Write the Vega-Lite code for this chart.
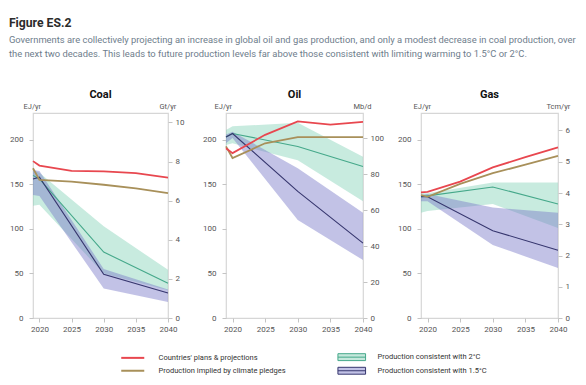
{
  "$schema": "https://vega.github.io/schema/vega-lite/v6.json",
  "padding": {"left": 8, "top": 17, "right": 4, "bottom": 0},
  "datasets": {
    "lines": [
      {"fuel": "Coal", "series": "Production consistent with 2°C", "year": 2019, "value": 160},
      {"fuel": "Coal", "series": "Production consistent with 2°C", "year": 2020, "value": 156},
      {"fuel": "Coal", "series": "Production consistent with 2°C", "year": 2030, "value": 74},
      {"fuel": "Coal", "series": "Production consistent with 2°C", "year": 2040, "value": 39},
      {"fuel": "Coal", "series": "Production consistent with 1.5°C", "year": 2019, "value": 156},
      {"fuel": "Coal", "series": "Production consistent with 1.5°C", "year": 2020, "value": 158},
      {"fuel": "Coal", "series": "Production consistent with 1.5°C", "year": 2030, "value": 49},
      {"fuel": "Coal", "series": "Production consistent with 1.5°C", "year": 2040, "value": 28},
      {"fuel": "Coal", "series": "Production implied by climate pledges", "year": 2019, "value": 168},
      {"fuel": "Coal", "series": "Production implied by climate pledges", "year": 2020, "value": 155},
      {"fuel": "Coal", "series": "Production implied by climate pledges", "year": 2025, "value": 153},
      {"fuel": "Coal", "series": "Production implied by climate pledges", "year": 2030, "value": 149.5},
      {"fuel": "Coal", "series": "Production implied by climate pledges", "year": 2035, "value": 145.5},
      {"fuel": "Coal", "series": "Production implied by climate pledges", "year": 2040, "value": 140},
      {"fuel": "Coal", "series": "Countries' plans & projections", "year": 2019, "value": 176},
      {"fuel": "Coal", "series": "Countries' plans & projections", "year": 2020, "value": 171},
      {"fuel": "Coal", "series": "Countries' plans & projections", "year": 2025, "value": 165},
      {"fuel": "Coal", "series": "Countries' plans & projections", "year": 2030, "value": 164.5},
      {"fuel": "Coal", "series": "Countries' plans & projections", "year": 2035, "value": 162.5},
      {"fuel": "Coal", "series": "Countries' plans & projections", "year": 2040, "value": 157.5},

      {"fuel": "Oil", "series": "Production consistent with 2°C", "year": 2019, "value": 203},
      {"fuel": "Oil", "series": "Production consistent with 2°C", "year": 2020, "value": 207},
      {"fuel": "Oil", "series": "Production consistent with 2°C", "year": 2030, "value": 192.5},
      {"fuel": "Oil", "series": "Production consistent with 2°C", "year": 2040, "value": 170},
      {"fuel": "Oil", "series": "Production consistent with 1.5°C", "year": 2019, "value": 203},
      {"fuel": "Oil", "series": "Production consistent with 1.5°C", "year": 2020, "value": 207},
      {"fuel": "Oil", "series": "Production consistent with 1.5°C", "year": 2030, "value": 142},
      {"fuel": "Oil", "series": "Production consistent with 1.5°C", "year": 2040, "value": 84},
      {"fuel": "Oil", "series": "Production implied by climate pledges", "year": 2019, "value": 192.5},
      {"fuel": "Oil", "series": "Production implied by climate pledges", "year": 2020, "value": 179.5},
      {"fuel": "Oil", "series": "Production implied by climate pledges", "year": 2025, "value": 196},
      {"fuel": "Oil", "series": "Production implied by climate pledges", "year": 2030, "value": 203},
      {"fuel": "Oil", "series": "Production implied by climate pledges", "year": 2035, "value": 203},
      {"fuel": "Oil", "series": "Production implied by climate pledges", "year": 2040, "value": 203},
      {"fuel": "Oil", "series": "Countries' plans & projections", "year": 2019, "value": 190.5},
      {"fuel": "Oil", "series": "Countries' plans & projections", "year": 2020, "value": 185},
      {"fuel": "Oil", "series": "Countries' plans & projections", "year": 2025, "value": 205.5},
      {"fuel": "Oil", "series": "Countries' plans & projections", "year": 2030, "value": 220.5},
      {"fuel": "Oil", "series": "Countries' plans & projections", "year": 2035, "value": 217},
      {"fuel": "Oil", "series": "Countries' plans & projections", "year": 2040, "value": 220},

      {"fuel": "Gas", "series": "Production consistent with 2°C", "year": 2019, "value": 136},
      {"fuel": "Gas", "series": "Production consistent with 2°C", "year": 2020, "value": 137},
      {"fuel": "Gas", "series": "Production consistent with 2°C", "year": 2030, "value": 147},
      {"fuel": "Gas", "series": "Production consistent with 2°C", "year": 2040, "value": 128},
      {"fuel": "Gas", "series": "Production consistent with 1.5°C", "year": 2019, "value": 136},
      {"fuel": "Gas", "series": "Production consistent with 1.5°C", "year": 2020, "value": 136},
      {"fuel": "Gas", "series": "Production consistent with 1.5°C", "year": 2030, "value": 98},
      {"fuel": "Gas", "series": "Production consistent with 1.5°C", "year": 2040, "value": 76},
      {"fuel": "Gas", "series": "Production implied by climate pledges", "year": 2019, "value": 138},
      {"fuel": "Gas", "series": "Production implied by climate pledges", "year": 2020, "value": 136},
      {"fuel": "Gas", "series": "Production implied by climate pledges", "year": 2025, "value": 150.5},
      {"fuel": "Gas", "series": "Production implied by climate pledges", "year": 2030, "value": 162.5},
      {"fuel": "Gas", "series": "Production implied by climate pledges", "year": 2035, "value": 172},
      {"fuel": "Gas", "series": "Production implied by climate pledges", "year": 2040, "value": 182},
      {"fuel": "Gas", "series": "Countries' plans & projections", "year": 2019, "value": 141},
      {"fuel": "Gas", "series": "Countries' plans & projections", "year": 2020, "value": 141.5},
      {"fuel": "Gas", "series": "Countries' plans & projections", "year": 2025, "value": 153},
      {"fuel": "Gas", "series": "Countries' plans & projections", "year": 2030, "value": 169},
      {"fuel": "Gas", "series": "Countries' plans & projections", "year": 2035, "value": 180.5},
      {"fuel": "Gas", "series": "Countries' plans & projections", "year": 2040, "value": 191.5}
    ],
    "bands": [
      {"fuel": "Coal", "series": "Production consistent with 2°C", "year": 2019, "lo": 126, "hi": 166},
      {"fuel": "Coal", "series": "Production consistent with 2°C", "year": 2020, "lo": 127, "hi": 163},
      {"fuel": "Coal", "series": "Production consistent with 2°C", "year": 2030, "lo": 50, "hi": 103},
      {"fuel": "Coal", "series": "Production consistent with 2°C", "year": 2040, "lo": 31, "hi": 54},
      {"fuel": "Coal", "series": "Production consistent with 1.5°C", "year": 2019, "lo": 138, "hi": 166},
      {"fuel": "Coal", "series": "Production consistent with 1.5°C", "year": 2020, "lo": 137, "hi": 165},
      {"fuel": "Coal", "series": "Production consistent with 1.5°C", "year": 2030, "lo": 33, "hi": 55},
      {"fuel": "Coal", "series": "Production consistent with 1.5°C", "year": 2040, "lo": 18, "hi": 32},
      {"fuel": "Oil", "series": "Production consistent with 2°C", "year": 2019, "lo": 194, "hi": 211},
      {"fuel": "Oil", "series": "Production consistent with 2°C", "year": 2020, "lo": 196, "hi": 215},
      {"fuel": "Oil", "series": "Production consistent with 2°C", "year": 2030, "lo": 177, "hi": 219},
      {"fuel": "Oil", "series": "Production consistent with 2°C", "year": 2040, "lo": 131, "hi": 181},
      {"fuel": "Oil", "series": "Production consistent with 1.5°C", "year": 2019, "lo": 196, "hi": 206},
      {"fuel": "Oil", "series": "Production consistent with 1.5°C", "year": 2020, "lo": 202, "hi": 209},
      {"fuel": "Oil", "series": "Production consistent with 1.5°C", "year": 2030, "lo": 110, "hi": 168},
      {"fuel": "Oil", "series": "Production consistent with 1.5°C", "year": 2040, "lo": 65, "hi": 118},
      {"fuel": "Gas", "series": "Production consistent with 2°C", "year": 2019, "lo": 118, "hi": 140},
      {"fuel": "Gas", "series": "Production consistent with 2°C", "year": 2020, "lo": 120, "hi": 140},
      {"fuel": "Gas", "series": "Production consistent with 2°C", "year": 2030, "lo": 128, "hi": 152},
      {"fuel": "Gas", "series": "Production consistent with 2°C", "year": 2040, "lo": 101, "hi": 152},
      {"fuel": "Gas", "series": "Production consistent with 1.5°C", "year": 2019, "lo": 131, "hi": 138},
      {"fuel": "Gas", "series": "Production consistent with 1.5°C", "year": 2020, "lo": 131, "hi": 139},
      {"fuel": "Gas", "series": "Production consistent with 1.5°C", "year": 2030, "lo": 82, "hi": 124},
      {"fuel": "Gas", "series": "Production consistent with 1.5°C", "year": 2040, "lo": 56, "hi": 118}
    ]
  },
  "title": {
    "text": "Figure ES.2",
    "subtitle": [
      "Governments are collectively projecting an increase in global oil and gas production, and only a modest decrease in coal production, over",
      "the next two decades. This leads to future production levels far above those consistent with limiting warming to 1.5°C or 2°C."
    ],
    "anchor": "start",
    "frame": "bounds",
    "fontSize": 12.2,
    "fontWeight": "bold",
    "color": "#2b2b2b",
    "subtitleColor": "#6e7d8c",
    "subtitleFontSize": 9.4,
    "subtitleLineHeight": 14.5,
    "subtitlePadding": 6,
    "offset": 30
  },
  "bounds": "flush",
  "spacing": 58,
  "hconcat": [
    {
      "title": {"text": "Coal"},
      "width": 135,
      "height": 205,
      "layer": [
        {
          "data": {"name": "bands"},
          "transform": [{"filter": "datum.fuel == 'Coal'"}],
          "mark": {"type": "area", "fillOpacity": 0.45},
          "encoding": {
            "x": {"field": "year", "type": "quantitative", "scale": {"domain": [2019, 2040], "nice": false, "zero": false}, "axis": {"values": [2020, 2025, 2030, 2035, 2040], "format": "d", "title": null, "labelOverlap": false}},
            "y": {"field": "lo", "type": "quantitative", "scale": {"domain": [0, 230], "nice": false}, "axis": {"values": [0, 50, 100, 150, 200], "labelPadding": 6, "title": "EJ/yr", "titleAngle": 0, "titleAlign": "left", "titleBaseline": "alphabetic", "titleX": -10, "titleY": -5}},
            "y2": {"field": "hi"},
            "fill": {"field": "series", "type": "nominal", "scale": {"domain": ["Production consistent with 2°C", "Production consistent with 1.5°C"], "range": ["#85d3b8", "#7878c8"]}, "legend": null}
          }
        },
        {
          "data": {"name": "lines"},
          "transform": [{"filter": "datum.fuel == 'Coal' && indexof(datum.series, 'consistent') >= 0"}],
          "mark": {"type": "line", "strokeWidth": 1.1},
          "encoding": {
            "x": {"field": "year", "type": "quantitative", "scale": {"domain": [2019, 2040], "nice": false, "zero": false}, "axis": {"values": [2020, 2025, 2030, 2035, 2040], "format": "d", "title": null, "labelOverlap": false}},
            "y": {"field": "value", "type": "quantitative", "scale": {"domain": [0, 230], "nice": false}, "axis": null},
            "stroke": {"field": "series", "type": "nominal"}
          }
        },
        {
          "data": {"name": "lines"},
          "transform": [{"filter": "datum.fuel == 'Coal' && indexof(datum.series, 'consistent') < 0"}],
          "mark": {"type": "line", "strokeWidth": 1.8},
          "encoding": {
            "x": {"field": "year", "type": "quantitative", "scale": {"domain": [2019, 2040], "nice": false, "zero": false}, "axis": {"values": [2020, 2025, 2030, 2035, 2040], "format": "d", "title": null, "labelOverlap": false}},
            "y": {"field": "value", "type": "quantitative", "scale": {"domain": [0, 230], "nice": false}, "axis": null},
            "stroke": {
              "field": "series",
              "type": "nominal",
              "scale": {"domain": ["Countries' plans & projections", "Production implied by climate pledges", "Production consistent with 2°C", "Production consistent with 1.5°C"], "range": ["#e8474f", "#a8905a", "#45a88a", "#36366e"]},
              "legend": {
                "orient": "none",
                "legendX": 96,
                "legendY": 240,
                "columns": 2,
                "title": null,
                "columnPadding": 49,
                "rowPadding": 2,
                "labelFontSize": 7.5,
                "labelColor": "#333333",
                "labelOffset": 22,
                "symbolType": "stroke",
                "symbolSize": 530,
                "symbolStrokeWidth": 2,
                "symbolOpacity": 1,
                "encode": {
                  "symbols": {
                    "update": {
                      "shape": {"signal": "datum.index >= 2 ? 'M-1.2,-0.3H1.2V0.3H-1.2Z M-1.2,0H1.2' : 'stroke'"},
                      "fill": {"signal": "datum.index == 2 ? '#c5e8dc' : datum.index == 3 ? '#c2c2e6' : 'transparent'"},
                      "strokeWidth": {"signal": "datum.index >= 2 ? 1 : 2"}
                    }
                  }
                }
              }
            }
          }
        },
        {
          "data": {"name": "lines"},
          "transform": [{"filter": "datum.fuel == 'Coal'"}],
          "mark": {"type": "rule", "opacity": 0, "clip": true},
          "encoding": {
            "y": {"field": "value", "type": "quantitative", "scale": {"domain": [0, 10.48], "nice": false}, "axis": {"orient": "right", "values": [0, 2, 4, 6, 8, 10], "title": "Gt/yr", "titleAngle": 0, "titleAlign": "left", "titleBaseline": "alphabetic", "titleX": -9, "titleY": -5}}
          }
        }
      ],
      "resolve": {"scale": {"y": "independent"}}
    },
    {
      "title": {"text": "Oil"},
      "width": 137,
      "height": 205,
      "layer": [
        {
          "data": {"name": "bands"},
          "transform": [{"filter": "datum.fuel == 'Oil'"}],
          "mark": {"type": "area", "fillOpacity": 0.45},
          "encoding": {
            "x": {"field": "year", "type": "quantitative", "scale": {"domain": [2019, 2040], "nice": false, "zero": false}, "axis": {"values": [2020, 2025, 2030, 2035, 2040], "format": "d", "title": null, "labelOverlap": false}},
            "y": {"field": "lo", "type": "quantitative", "scale": {"domain": [0, 230], "nice": false}, "axis": {"values": [0, 50, 100, 150, 200], "labelPadding": 6, "title": "EJ/yr", "titleAngle": 0, "titleAlign": "left", "titleBaseline": "alphabetic", "titleX": -12, "titleY": -5}},
            "y2": {"field": "hi"},
            "fill": {"field": "series", "type": "nominal", "scale": {"domain": ["Production consistent with 2°C", "Production consistent with 1.5°C"], "range": ["#85d3b8", "#7878c8"]}, "legend": null}
          }
        },
        {
          "data": {"name": "lines"},
          "transform": [{"filter": "datum.fuel == 'Oil' && indexof(datum.series, 'consistent') >= 0"}],
          "mark": {"type": "line", "strokeWidth": 1.1},
          "encoding": {
            "x": {"field": "year", "type": "quantitative", "scale": {"domain": [2019, 2040], "nice": false, "zero": false}, "axis": {"values": [2020, 2025, 2030, 2035, 2040], "format": "d", "title": null, "labelOverlap": false}},
            "y": {"field": "value", "type": "quantitative", "scale": {"domain": [0, 230], "nice": false}, "axis": null},
            "stroke": {"field": "series", "type": "nominal"}
          }
        },
        {
          "data": {"name": "lines"},
          "transform": [{"filter": "datum.fuel == 'Oil' && indexof(datum.series, 'consistent') < 0"}],
          "mark": {"type": "line", "strokeWidth": 1.8},
          "encoding": {
            "x": {"field": "year", "type": "quantitative", "scale": {"domain": [2019, 2040], "nice": false, "zero": false}, "axis": {"values": [2020, 2025, 2030, 2035, 2040], "format": "d", "title": null, "labelOverlap": false}},
            "y": {"field": "value", "type": "quantitative", "scale": {"domain": [0, 230], "nice": false}, "axis": null},
            "stroke": {"field": "series", "type": "nominal"}
          }
        },
        {
          "data": {"name": "lines"},
          "transform": [{"filter": "datum.fuel == 'Oil'"}],
          "mark": {"type": "rule", "opacity": 0, "clip": true},
          "encoding": {
            "y": {"field": "value", "type": "quantitative", "scale": {"domain": [0, 114], "nice": false}, "axis": {"orient": "right", "values": [0, 20, 40, 60, 80, 100], "title": "Mb/d", "titleAngle": 0, "titleAlign": "left", "titleBaseline": "alphabetic", "titleX": -10, "titleY": -5}}
          }
        }
      ],
      "resolve": {"scale": {"y": "independent"}}
    },
    {
      "title": {"text": "Gas"},
      "width": 137,
      "height": 205,
      "layer": [
        {
          "data": {"name": "bands"},
          "transform": [{"filter": "datum.fuel == 'Gas'"}],
          "mark": {"type": "area", "fillOpacity": 0.45},
          "encoding": {
            "x": {"field": "year", "type": "quantitative", "scale": {"domain": [2019, 2040], "nice": false, "zero": false}, "axis": {"values": [2020, 2025, 2030, 2035, 2040], "format": "d", "title": null, "labelOverlap": false}},
            "y": {"field": "lo", "type": "quantitative", "scale": {"domain": [0, 230], "nice": false}, "axis": {"values": [0, 50, 100, 150, 200], "labelPadding": 6, "title": "EJ/yr", "titleAngle": 0, "titleAlign": "left", "titleBaseline": "alphabetic", "titleX": -8, "titleY": -5}},
            "y2": {"field": "hi"},
            "fill": {"field": "series", "type": "nominal", "scale": {"domain": ["Production consistent with 2°C", "Production consistent with 1.5°C"], "range": ["#85d3b8", "#7878c8"]}, "legend": null}
          }
        },
        {
          "data": {"name": "lines"},
          "transform": [{"filter": "datum.fuel == 'Gas' && indexof(datum.series, 'consistent') >= 0"}],
          "mark": {"type": "line", "strokeWidth": 1.1},
          "encoding": {
            "x": {"field": "year", "type": "quantitative", "scale": {"domain": [2019, 2040], "nice": false, "zero": false}, "axis": {"values": [2020, 2025, 2030, 2035, 2040], "format": "d", "title": null, "labelOverlap": false}},
            "y": {"field": "value", "type": "quantitative", "scale": {"domain": [0, 230], "nice": false}, "axis": null},
            "stroke": {"field": "series", "type": "nominal"}
          }
        },
        {
          "data": {"name": "lines"},
          "transform": [{"filter": "datum.fuel == 'Gas' && indexof(datum.series, 'consistent') < 0"}],
          "mark": {"type": "line", "strokeWidth": 1.8},
          "encoding": {
            "x": {"field": "year", "type": "quantitative", "scale": {"domain": [2019, 2040], "nice": false, "zero": false}, "axis": {"values": [2020, 2025, 2030, 2035, 2040], "format": "d", "title": null, "labelOverlap": false}},
            "y": {"field": "value", "type": "quantitative", "scale": {"domain": [0, 230], "nice": false}, "axis": null},
            "stroke": {"field": "series", "type": "nominal"}
          }
        },
        {
          "data": {"name": "lines"},
          "transform": [{"filter": "datum.fuel == 'Gas'"}],
          "mark": {"type": "rule", "opacity": 0, "clip": true},
          "encoding": {
            "y": {"field": "value", "type": "quantitative", "scale": {"domain": [0, 6.56], "nice": false}, "axis": {"orient": "right", "values": [0, 1, 2, 3, 4, 5, 6], "title": "Tcm/yr", "titleAngle": 0, "titleAlign": "left", "titleBaseline": "alphabetic", "titleX": -12, "titleY": -5}}
          }
        }
      ],
      "resolve": {"scale": {"y": "independent"}}
    }
  ],
  "config": {
    "font": "Roboto",
    "view": {"stroke": "#d6d6d6", "strokeWidth": 1.2},
    "title": {"fontSize": 11, "fontWeight": "bold", "color": "#111111", "offset": 2},
    "axis": {
      "domain": false,
      "grid": false,
      "tickColor": "#c4c4c4",
      "tickSize": 4,
      "labelColor": "#555555",
      "labelFontSize": 8,
      "labelPadding": 3,
      "titleFontSize": 7.5,
      "titleFontWeight": "normal",
      "titleColor": "#555555",
      "titlePadding": 0
    },
    "axisX": {"labelOverlap": false, "labelFlush": false},
    "legend": {
      "orient": "none"
    }
  }
}
